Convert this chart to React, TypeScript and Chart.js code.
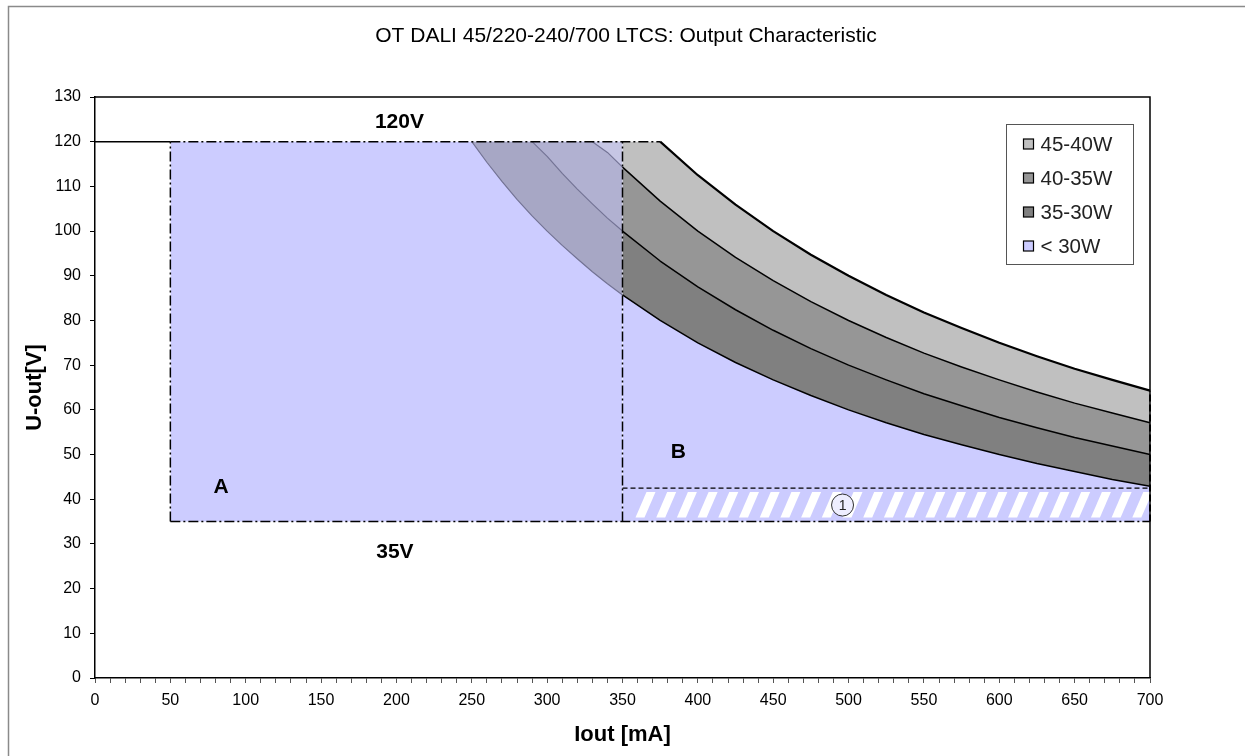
import React, { useEffect, useRef } from 'react';
import { Chart, registerables } from 'chart.js';

Chart.register(...registerables);

const TITLE = 'OT DALI 45/220-240/700 LTCS: Output Characteristic';
const X_TITLE = 'Iout [mA]';
const Y_TITLE = 'U-out[V]';
const LEGEND_LABELS = ['45-40W', '40-35W', '35-30W', '< 30W'];

// currents (mA) at which the curves were read, faded part (behind region A) and main part
const I_FADED = [250, 260, 270, 280, 290, 300, 310, 320, 330, 340, 350];
const I_MAIN = [350, 375, 400, 425, 450, 475, 500, 525, 550, 575, 600, 625, 650, 675, 700];

// output voltage (V) of the power limit curves
const U45_FADED = [120, 120, 120, 120, 120, 120, 120, 120, 120, 120, 120];
const U40_FADED = [120, 120, 120, 120, 120, 120, 120, 120, 120, 117.6, 114.3];
const U35_FADED = [120, 120, 120, 120, 120, 116.7, 112.9, 109.4, 106.1, 102.9, 100];
const U30_FADED = [120, 115.4, 111.1, 107.1, 103.4, 100, 96.8, 93.8, 90.9, 88.2, 85.7];

const U45_MAIN = [120, 120, 112.5, 105.9, 100, 94.7, 90, 85.7, 81.8, 78.3, 75, 72, 69.2, 66.7, 64.3];
const U40_MAIN = [114.3, 106.7, 100, 94.1, 88.9, 84.2, 80, 76.2, 72.7, 69.6, 66.7, 64, 61.5, 59.3, 57.1];
const U35_MAIN = [100, 93.3, 87.5, 82.4, 77.8, 73.7, 70, 66.7, 63.6, 60.9, 58.3, 56, 53.8, 51.9, 50];
const U30_MAIN = [85.7, 80, 75, 70.6, 66.7, 63.2, 60, 57.1, 54.5, 52.2, 50, 48, 46.2, 44.4, 42.9];

// limits
const U_LIMIT = [35, 120]; // min / max output voltage
const I_TOP_SOLID = [0, 50];
const I_TOP_DASH = [50, 375];
const I_REGION_A = [50, 350];
const I_BOTTOM = [50, 700];
const I_SPLIT = [350];
const I_END = [700];
const U_END = [35, 64.3];
const I_HATCH = [350, 700];
const U_HATCH = [35, 42.5];
const NOTE_POINT = [496, 38.7];

const X_TICKS = { min: 0, max: 700, step: 10, labelStep: 50 };
const Y_TICKS = { min: 0, max: 130, step: 10 };

const LAVENDER = '#CCCCFF';
const C45 = '#C0C0C0';
const C40 = '#969696';
const C35 = '#808080';
const F45 = '#C6C6E4';
const F40 = '#B1B1D1';
const F35 = '#A7A7C5';
const F_LINE = '#737394';
const NONE = 'rgba(0,0,0,0)';
const DASH_DOT = [10, 3, 2, 3];
const FONT = "'Liberation Sans', Arial, Helvetica, sans-serif";

const pts = (xs: number[], ys: number[]) => xs.map((x, i) => ({ x, y: ys[i] }));
const hLine = (xs: number[], y: number) => xs.map((x) => ({ x, y }));
const vLine = (x: number, ys: number[]) => ys.map((y) => ({ x, y }));
// hide the part of a curve that lies on the voltage cap (drawn by the dash-dot limit line)
const capHidden = (color: string) => ({
  borderColor: (ctx: any) =>
    ctx.p0.parsed.y >= U_LIMIT[1] && ctx.p1.parsed.y >= U_LIMIT[1] ? NONE : color,
});

const base = {
  showLine: true,
  pointRadius: 0,
  pointHoverRadius: 0,
  clip: false as any,
  fill: false as any,
  tension: 0,
  borderJoinStyle: 'round',
};

function buildDatasets() {
  const ds: any[] = [];
  const add = (d: any) => {
    ds.push({ ...base, ...d });
    return ds.length - 1;
  };
  // outlines and curves (drawn as lines)
  add({ label: 'top', data: hLine(I_TOP_SOLID, U_LIMIT[1]), borderColor: '#000', borderWidth: 1.5 });
  add({ label: 'topDash', data: hLine(I_TOP_DASH, U_LIMIT[1]), borderColor: '#000', borderWidth: 1.5, borderDash: DASH_DOT });
  add({ label: 'aLeft', data: vLine(I_REGION_A[0], U_LIMIT), borderColor: '#000', borderWidth: 1.5, borderDash: DASH_DOT });
  add({ label: 'bottom', data: hLine(I_BOTTOM, U_LIMIT[0]), borderColor: '#000', borderWidth: 1.5, borderDash: DASH_DOT });
  add({ label: 'split', data: vLine(I_SPLIT[0], U_LIMIT), borderColor: '#000', borderWidth: 1.5, borderDash: DASH_DOT });
  add({ label: 'hatchTop', data: hLine(I_HATCH, U_HATCH[1]), borderColor: '#000', borderWidth: 1.3, borderDash: [5, 3] });
  add({ label: 'end', data: vLine(I_END[0], U_END), borderColor: '#000', borderWidth: 2, borderDash: [7, 3] });
  add({ label: '45W line', data: pts(I_MAIN, U45_MAIN), borderColor: '#000', borderWidth: 2.2, segment: capHidden('#000') });
  add({ label: '40W line', data: pts(I_MAIN, U40_MAIN), borderColor: '#000', borderWidth: 1.5 });
  add({ label: '35W line', data: pts(I_MAIN, U35_MAIN), borderColor: '#000', borderWidth: 1.5 });
  add({ label: '30W line', data: pts(I_MAIN, U30_MAIN), borderColor: '#000', borderWidth: 1.5 });
  add({ label: '40W faded', data: pts(I_FADED, U40_FADED), borderColor: F_LINE, borderWidth: 1.2, segment: capHidden(F_LINE) });
  add({ label: '35W faded', data: pts(I_FADED, U35_FADED), borderColor: F_LINE, borderWidth: 1.2, segment: capHidden(F_LINE) });
  add({ label: '30W faded', data: pts(I_FADED, U30_FADED), borderColor: F_LINE, borderWidth: 1.2, segment: capHidden(F_LINE) });

  // filled areas (no border); fills are drawn from the last dataset to the first
  const n = ds.length;
  // main bands: n .. n+3
  add({ label: '45-40W', data: pts(I_MAIN, U45_MAIN), borderWidth: 0, borderColor: NONE, fill: { target: n + 1 }, backgroundColor: C45 });
  add({ label: '40-35W', data: pts(I_MAIN, U40_MAIN), borderWidth: 0, borderColor: NONE, fill: { target: n + 2 }, backgroundColor: C40 });
  add({ label: '35-30W', data: pts(I_MAIN, U35_MAIN), borderWidth: 0, borderColor: NONE, fill: { target: n + 3 }, backgroundColor: C35 });
  add({ label: '< 30W', data: pts(I_MAIN, U30_MAIN), borderWidth: 0, borderColor: NONE, fill: { value: U_LIMIT[0] }, backgroundColor: LAVENDER });
  // faded bands: n+4 .. n+7
  add({ label: 'f45', data: pts(I_FADED, U45_FADED), borderWidth: 0, borderColor: NONE, fill: { target: n + 5 }, backgroundColor: F45 });
  add({ label: 'f40', data: pts(I_FADED, U40_FADED), borderWidth: 0, borderColor: NONE, fill: { target: n + 6 }, backgroundColor: F40 });
  add({ label: 'f35', data: pts(I_FADED, U35_FADED), borderWidth: 0, borderColor: NONE, fill: { target: n + 7 }, backgroundColor: F35 });
  add({ label: 'f30', data: pts(I_FADED, U30_FADED), borderWidth: 0, borderColor: NONE });
  // region A
  add({ label: 'A', data: hLine(I_REGION_A, U_LIMIT[1]), borderWidth: 0, borderColor: NONE, fill: { value: U_LIMIT[0] }, backgroundColor: LAVENDER });
  return ds;
}

const TEXT_LABELS = [
  { text: '120V', x: 202, y: 124.4 },
  { text: '35V', x: 199, y: 28.2 },
  { text: 'A', x: 83.6, y: 42.7 },
  { text: 'B', x: 387, y: 50.6 },
];

const decorPlugin = {
  id: 'decor',
  beforeDraw(chart: any) {
    const { ctx, width, height } = chart;
    ctx.save();
    ctx.fillStyle = '#fff';
    ctx.fillRect(0, 0, width, height);
    ctx.strokeStyle = '#8a8a8a';
    ctx.lineWidth = 1.5;
    ctx.beginPath();
    ctx.moveTo(8.5, height + 2);
    ctx.lineTo(8.5, 6.5);
    ctx.lineTo(width + 2, 6.5);
    ctx.stroke();
    ctx.fillStyle = '#000';
    ctx.font = `21px ${FONT}`;
    ctx.textAlign = 'center';
    ctx.textBaseline = 'middle';
    ctx.fillText(TITLE, 626, 36);
    ctx.restore();
  },
  beforeDatasetsDraw(chart: any) {
    const { ctx, scales } = chart;
    const xs = scales.x, ys = scales.y;
    const xl = xs.getPixelForValue(I_HATCH[0]);
    const xr = xs.getPixelForValue(I_HATCH[1]);
    const yt = ys.getPixelForValue(U_HATCH[1]);
    const yb = ys.getPixelForValue(U_HATCH[0]);
    ctx.save();
    ctx.beginPath();
    ctx.rect(xl, yt, xr - xl, yb - yt);
    ctx.clip();
    ctx.fillStyle = '#fff';
    const top = yt + 4, bot = yb - 4, lean = 11, w = 9, step = 20.7;
    for (let sx = xl + 13; sx < xr - 10; sx += step) {
      ctx.beginPath();
      ctx.moveTo(sx, bot);
      ctx.lineTo(sx + w, bot);
      ctx.lineTo(sx + w + lean, top);
      ctx.lineTo(sx + lean, top);
      ctx.closePath();
      ctx.fill();
    }
    ctx.restore();
  },
  afterDatasetsDraw(chart: any) {
    const { ctx, scales, chartArea } = chart;
    const xs = scales.x, ys = scales.y;
    ctx.save();
    // frame
    ctx.strokeStyle = '#000';
    ctx.lineWidth = 1.5;
    ctx.beginPath();
    ctx.moveTo(chartArea.left, chartArea.top);
    ctx.lineTo(chartArea.right, chartArea.top);
    ctx.lineTo(chartArea.right, chartArea.bottom);
    ctx.stroke();
    // text labels
    ctx.fillStyle = '#000';
    ctx.font = `bold 21px ${FONT}`;
    ctx.textAlign = 'center';
    ctx.textBaseline = 'middle';
    TEXT_LABELS.forEach((l) => {
      ctx.fillText(l.text, xs.getPixelForValue(l.x), ys.getPixelForValue(l.y));
    });
    // note circle
    const cx = xs.getPixelForValue(NOTE_POINT[0]);
    const cy = ys.getPixelForValue(NOTE_POINT[1]);
    ctx.beginPath();
    ctx.arc(cx, cy, 11, 0, Math.PI * 2);
    ctx.fillStyle = '#EEEEFF';
    ctx.fill();
    ctx.strokeStyle = '#333';
    ctx.lineWidth = 1;
    ctx.stroke();
    ctx.fillStyle = '#222';
    ctx.font = `14px ${FONT}`;
    ctx.fillText('1', cx, cy + 1);
    // legend
    const colors = [C45, C40, C35, LAVENDER];
    const bx = 1006.5, by = 124.5, bw = 127, bh = 140;
    ctx.fillStyle = '#fff';
    ctx.fillRect(bx, by, bw, bh);
    ctx.strokeStyle = '#555';
    ctx.lineWidth = 1;
    ctx.strokeRect(bx, by, bw, bh);
    ctx.textAlign = 'left';
    ctx.font = `20.5px ${FONT}`;
    LEGEND_LABELS.forEach((lab, i) => {
      const yy = by + 19.5 + i * 34;
      ctx.fillStyle = colors[i];
      ctx.fillRect(bx + 17, yy - 5, 10, 10);
      ctx.strokeStyle = '#000';
      ctx.lineWidth = 1.2;
      ctx.strokeRect(bx + 17, yy - 5, 10, 10);
      ctx.fillStyle = '#222';
      ctx.fillText(lab, bx + 34, yy + 1);
    });
    ctx.restore();
  },
};

export default function App() {
  const ref = useRef<HTMLCanvasElement>(null);
  useEffect(() => {
    const canvas = ref.current;
    if (!canvas) return;
    Chart.defaults.font.family = FONT;
    const chart = new Chart(canvas, {
      type: 'scatter',
      data: { datasets: buildDatasets() },
      options: {
        animation: false,
        responsive: false,
        events: [],
        layout: { padding: { left: 0, right: 95, top: 97, bottom: 0 } },
        plugins: {
          legend: { display: false },
          tooltip: { enabled: false },
          filler: { drawTime: 'beforeDatasetsDraw', propagate: false } as any,
          title: { display: false },
        },
        scales: {
          x: {
            type: 'linear',
            min: X_TICKS.min,
            max: X_TICKS.max,
            afterFit: (s: any) => {
              s.height = 78;
              s.paddingLeft = 0;
              s.paddingRight = 0;
            },
            ticks: {
              stepSize: X_TICKS.step,
              autoSkip: false,
              maxRotation: 0,
              color: '#000',
              padding: 8,
              font: { size: 16, family: FONT },
              callback: (v: any) => (Number(v) % X_TICKS.labelStep === 0 ? String(v) : ''),
            },
            grid: { display: true, drawOnChartArea: false, drawTicks: true, tickLength: 5, tickColor: '#555', tickWidth: 1 },
            border: { display: true, color: '#000', width: 1.5 },
            title: { display: true, text: X_TITLE, color: '#000', font: { size: 22, weight: 'bold', family: FONT }, padding: { top: 0, bottom: 8 } },
          },
          y: {
            type: 'linear',
            min: Y_TICKS.min,
            max: Y_TICKS.max,
            afterFit: (s: any) => {
              s.width = 95;
              s.paddingTop = 0;
              s.paddingBottom = 0;
            },
            ticks: { stepSize: Y_TICKS.step, color: '#000', padding: 9, font: { size: 16, family: FONT } },
            grid: { display: true, drawOnChartArea: false, drawTicks: true, tickLength: 5, tickColor: '#000', tickWidth: 1 },
            border: { display: true, color: '#000', width: 1.5 },
            title: { display: true, text: Y_TITLE, color: '#000', font: { size: 22, weight: 'bold', family: FONT }, padding: { top: 22, bottom: 0 } },
          },
        },
      } as any,
      plugins: [decorPlugin],
    });
    return () => chart.destroy();
  }, []);
  return (
    <div style={{ position: 'absolute', left: 0, top: 0, width: 1245, height: 756, background: '#fff' }}>
      <canvas ref={ref} width={1245} height={756} style={{ display: 'block', width: 1245, height: 756 }} />
    </div>
  );
}
